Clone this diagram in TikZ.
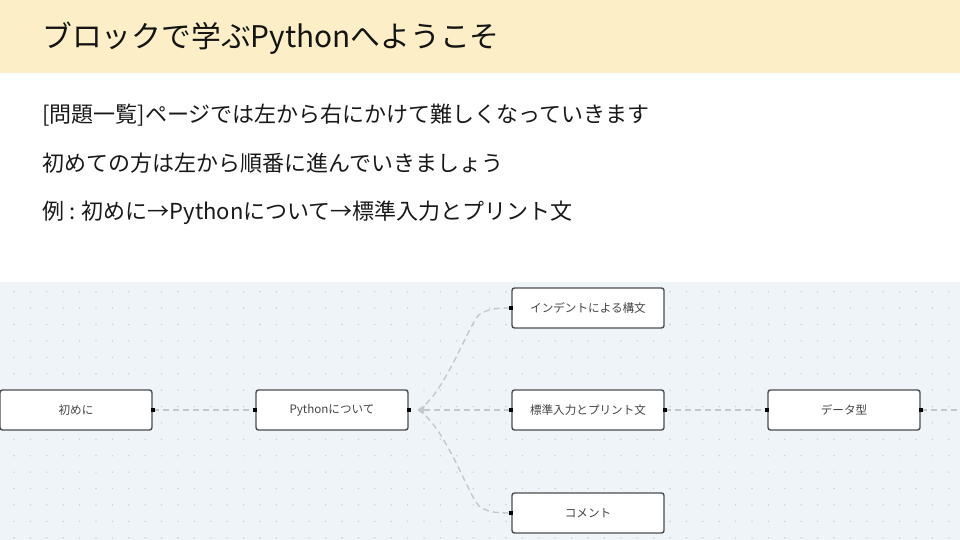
\documentclass[tikz,border=0pt]{standalone}
\usepackage{fontspec}
\setmainfont{Noto Sans CJK JP}
\usetikzlibrary{arrows.meta}
\definecolor{hdr}{HTML}{FCEFC8}
\definecolor{dgbg}{HTML}{EEF4F8}
\definecolor{dotc}{HTML}{C9CFD5}
\definecolor{edgec}{HTML}{C4C8CC}
\definecolor{boxline}{HTML}{4A4D52}
\definecolor{boxtext}{HTML}{444444}
\tikzset{
  blk/.style={draw=boxline, line width=1.4pt, fill=white, rounded corners=2.5pt,
    minimum width=152pt, minimum height=40pt, inner sep=0pt,
    font=\fontsize{11.6}{13}\selectfont, text=boxtext},
  conn/.style={draw=edgec, line width=1.4pt, dash pattern=on 6pt off 4pt},
  port/.style={fill=black, inner sep=0pt, minimum size=4pt},
  bodytext/.style={anchor=west, inner sep=0pt, text=black!90, font=\fontsize{22}{24}\selectfont},
}
\begin{document}
\begin{tikzpicture}[x=1pt,y=-1pt]
\useasboundingbox (0,0) rectangle (960,540);
% header band
\fill[hdr] (0,0) rectangle (960,73);
\node[anchor=west, inner sep=0pt, text=black!92, font=\fontsize{29.8}{34}\selectfont] (title) at (42,38) {ブロックで学ぶPythonへようこそ};
% body text
\node[bodytext] (l1) at (42,115) {[問題一覧]ページでは左から右にかけて難しくなっていきます};
\node[bodytext] (l2) at (42,163) {初めての方は左から順番に進んでいきましょう};
\node[bodytext] (l3) at (42,213) {例 : 初めに→Pythonについて→標準入力とプリント文};
% diagram background
\fill[dgbg] (0,282) rectangle (960,540);
\foreach \i in {0,...,57} {
  \foreach \j in {0,...,15} {
    \fill[dotc] (14+16.4*\i, 291.7+16.4*\j) circle (0.8pt);
  }
}
% nodes
\node[blk] (start) at (76,410) {初めに};
\node[blk] (py) at (332,410) {Pythonについて};
\node[blk] (ind) at (588,308) {インデントによる構文};
\node[blk] (std) at (588,410) {標準入力とプリント文};
\node[blk] (com) at (588,513) {コメント};
\node[blk] (dt) at (844,410) {データ型};
\coordinate (hub) at (418,410);
\coordinate (out) at (960,410);
% connectors
\draw[conn] (start.east) -- (py.west);
\draw[conn, {Triangle[length=6pt,width=6pt,fill=edgec]}-] (hub) -- (std.west);
\draw[conn] (hub) .. controls (445,395) and (470,320) .. (480,314) .. controls (490,308) and (500,308) .. (ind.west);
\draw[conn] (hub) .. controls (445,425) and (470,500) .. (480,507) .. controls (490,513) and (500,513) .. (com.west);
\draw[conn] (std.east) -- (dt.west);
\draw[conn] (dt.east) -- (out);
% ports
\foreach \n in {start,py,std,dt} { \node[port] at (\n.east) {}; }
\foreach \n in {py,ind,std,com,dt} { \node[port] at (\n.west) {}; }
\end{tikzpicture}
\end{document}
